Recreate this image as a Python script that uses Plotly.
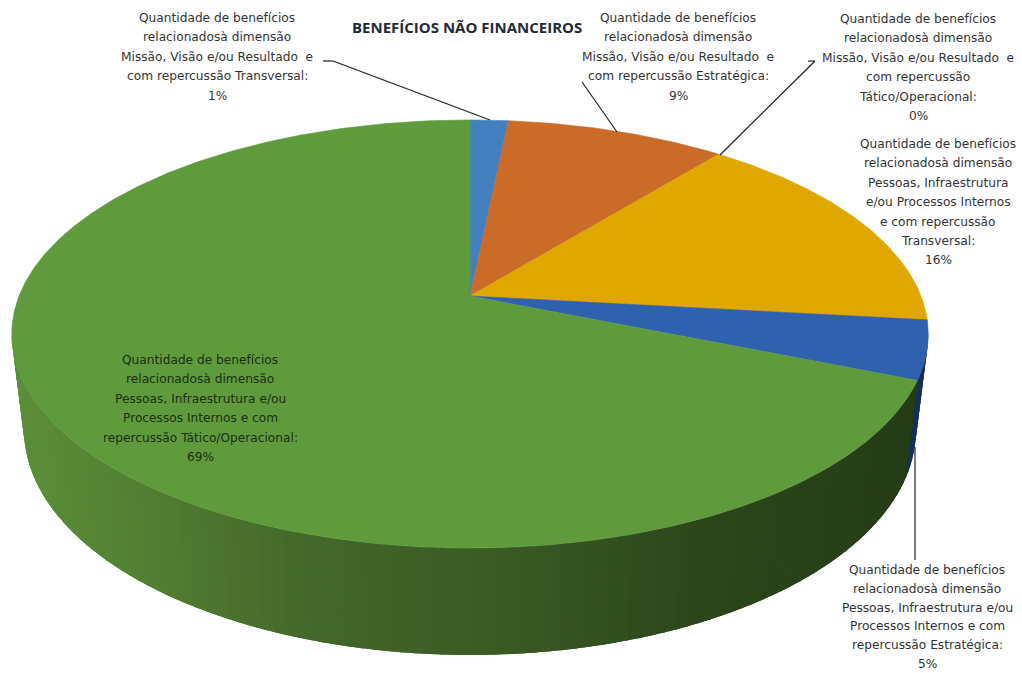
import math
import plotly.graph_objects as go

# --- data ---
categories = [
    "Missão, Visão e/ou Resultado - Transversal",
    "Missão, Visão e/ou Resultado - Estratégica",
    "Missão, Visão e/ou Resultado - Tático/Operacional",
    "Pessoas, Infraestrutura e/ou Processos Internos - Transversal",
    "Pessoas, Infraestrutura e/ou Processos Internos - Estratégica",
    "Pessoas, Infraestrutura e/ou Processos Internos - Tático/Operacional",
]
values = [1.6, 9.2, 0.0, 16.0, 4.4, 68.8]
percent_labels = ["1%", "9%", "0%", "16%", "5%", "69%"]
label_lines = [
    ["Quantidade de benefícios", "relacionadosà dimensão", "Missão, Visão e/ou Resultado  e", "com repercussão Transversal:"],
    ["Quantidade de benefícios", "relacionadosà dimensão", "Missão, Visão e/ou Resultado  e", "com repercussão Estratégica:"],
    ["Quantidade de benefícios", "relacionadosà dimensão", "Missão, Visão e/ou Resultado  e", "com repercussão", "Tático/Operacional:"],
    ["Quantidade de benefícios", "relacionadosà dimensão", "Pessoas, Infraestrutura", "e/ou Processos Internos", "e com repercussão", "Transversal:"],
    ["Quantidade de benefícios", "relacionadosà dimensão", "Pessoas, Infraestrutura e/ou", "Processos Internos e com", "repercussão Estratégica:"],
    ["Quantidade de benefícios", "relacionadosà dimensão", "Pessoas, Infraestrutura e/ou", "Processos Internos e com", "repercussão Tático/Operacional:"],
]
title_text = "BENEFÍCIOS NÃO FINANCEIROS"

# --- styling / layout ---
W, H = 1022, 673
face_colors = ["#4281bd", "#ca6b27", "#a5a5a5", "#e0a700", "#2f62ae", "#5f9b3d"]
side_navy = "#14305c"
green_stops = [(20, (92, 142, 56)), (120, (84, 130, 51)), (300, (68, 104, 42)),
               (500, (58, 90, 36)), (700, (44, 70, 26)), (920, (36, 60, 22))]
label_centers = [(217, 18), (678, 18), (918, 19), (938, 144), (927, 570), (200, 360)]
line_steps = [19.4, 19.4, 19.4, 19.4, 18.8, 19.4]
label_font = dict(family="DejaVu Sans", size=12.2, color="#333333")
dark_label_font = dict(family="DejaVu Sans", size=12.2, color="#1c2e12")
leaders = [
    [(323, 61), (333, 61), (490, 120)],
    [(582, 82), (617, 132)],
    [(808, 61), (815, 61), (720, 155)],
    [(915, 447), (915, 560)],
]

# perspective rim of the top face and of the base
K = 0.1776
XC = 470
TOP = dict(yc=296, A=451.0, B=207.3)
BASE = dict(yc=390, A=438.9, B=217.9)


def rim(theta, g):
    sx, cy = math.sin(theta), math.cos(theta)
    d = 1 + K * cy
    return XC + g["A"] * sx / d, g["yc"] - g["B"] * cy / d


def green_at(x):
    if x <= green_stops[0][0]:
        return "rgb(%d,%d,%d)" % green_stops[0][1]
    for (x0, c0), (x1, c1) in zip(green_stops, green_stops[1:]):
        if x <= x1:
            t = (x - x0) / (x1 - x0)
            return "rgb(%d,%d,%d)" % tuple(round(a + (b - a) * t) for a, b in zip(c0, c1))
    return "rgb(%d,%d,%d)" % green_stops[-1][1]


total = sum(values)
edges = [0.0]
for v in values:
    edges.append(edges[-1] + v / total * 2 * math.pi)

fig = go.Figure()


def poly(xs, ys, color, name=None, lw=0.6):
    fig.add_trace(go.Scatter(x=xs, y=ys, mode="lines", fill="toself", fillcolor=color,
                             line=dict(color=color, width=lw), hoverinfo="skip",
                             showlegend=False, name=name))


# side wall (only the front part is visible); strips overlap so no seams show
start = math.acos(-K)
end = 2 * math.pi - start
n = 110
dt = (end - start) / n
blue_end = edges[5]
for i in range(n):
    t0 = start + dt * i
    t1 = min(end, t0 + dt * 2.2)
    a, b = rim(t0, TOP), rim(t1, TOP)
    c, d = rim(t1, BASE), rim(t0, BASE)
    mid = t0 + dt / 2
    color = side_navy if mid < blue_end else green_at((rim(mid, TOP)[0] + rim(mid, BASE)[0]) / 2)
    poly([a[0], b[0], c[0], d[0], a[0]], [a[1], b[1], c[1], d[1], a[1]], color, lw=0)

# top faces
for i, cat in enumerate(categories):
    if values[i] <= 0:
        continue
    steps = max(4, int((edges[i + 1] - edges[i]) / 0.01))
    pts = [rim(edges[i] + (edges[i + 1] - edges[i]) * j / steps, TOP) for j in range(steps + 1)]
    poly([XC] + [p[0] for p in pts] + [XC], [TOP["yc"]] + [p[1] for p in pts] + [TOP["yc"]],
         face_colors[i], cat)

# data labels, one line at a time to hold the original line spacing
annotations = [dict(x=467, y=27, text=title_text, showarrow=False, xref="x", yref="y",
                    font=dict(family="Open Sans", size=15, color="#1f2a3a", weight="bold"))]
for i, lines in enumerate(label_lines):
    cx, y0 = label_centers[i]
    font = dark_label_font if i == 5 else label_font
    for j, line in enumerate(lines + [percent_labels[i]]):
        annotations.append(dict(x=cx, y=y0 + j * line_steps[i], text=line, showarrow=False,
                                xref="x", yref="y", font=font))

shapes = []
for path in leaders:
    for p, q in zip(path, path[1:]):
        shapes.append(dict(type="line", x0=p[0], y0=p[1], x1=q[0], y1=q[1], xref="x", yref="y",
                           line=dict(color="#222222", width=1.2)))

fig.update_layout(
    width=W, height=H, margin=dict(l=0, r=0, t=0, b=0),
    paper_bgcolor="white", plot_bgcolor="white", showlegend=False, hovermode=False,
    xaxis=dict(range=[0, W], visible=False, fixedrange=True),
    yaxis=dict(range=[H, 0], visible=False, fixedrange=True),
    annotations=annotations, shapes=shapes,
)
fig.write_html("out.html", config={"displayModeBar": False},
               post_script="document.body.style.margin='0';")
